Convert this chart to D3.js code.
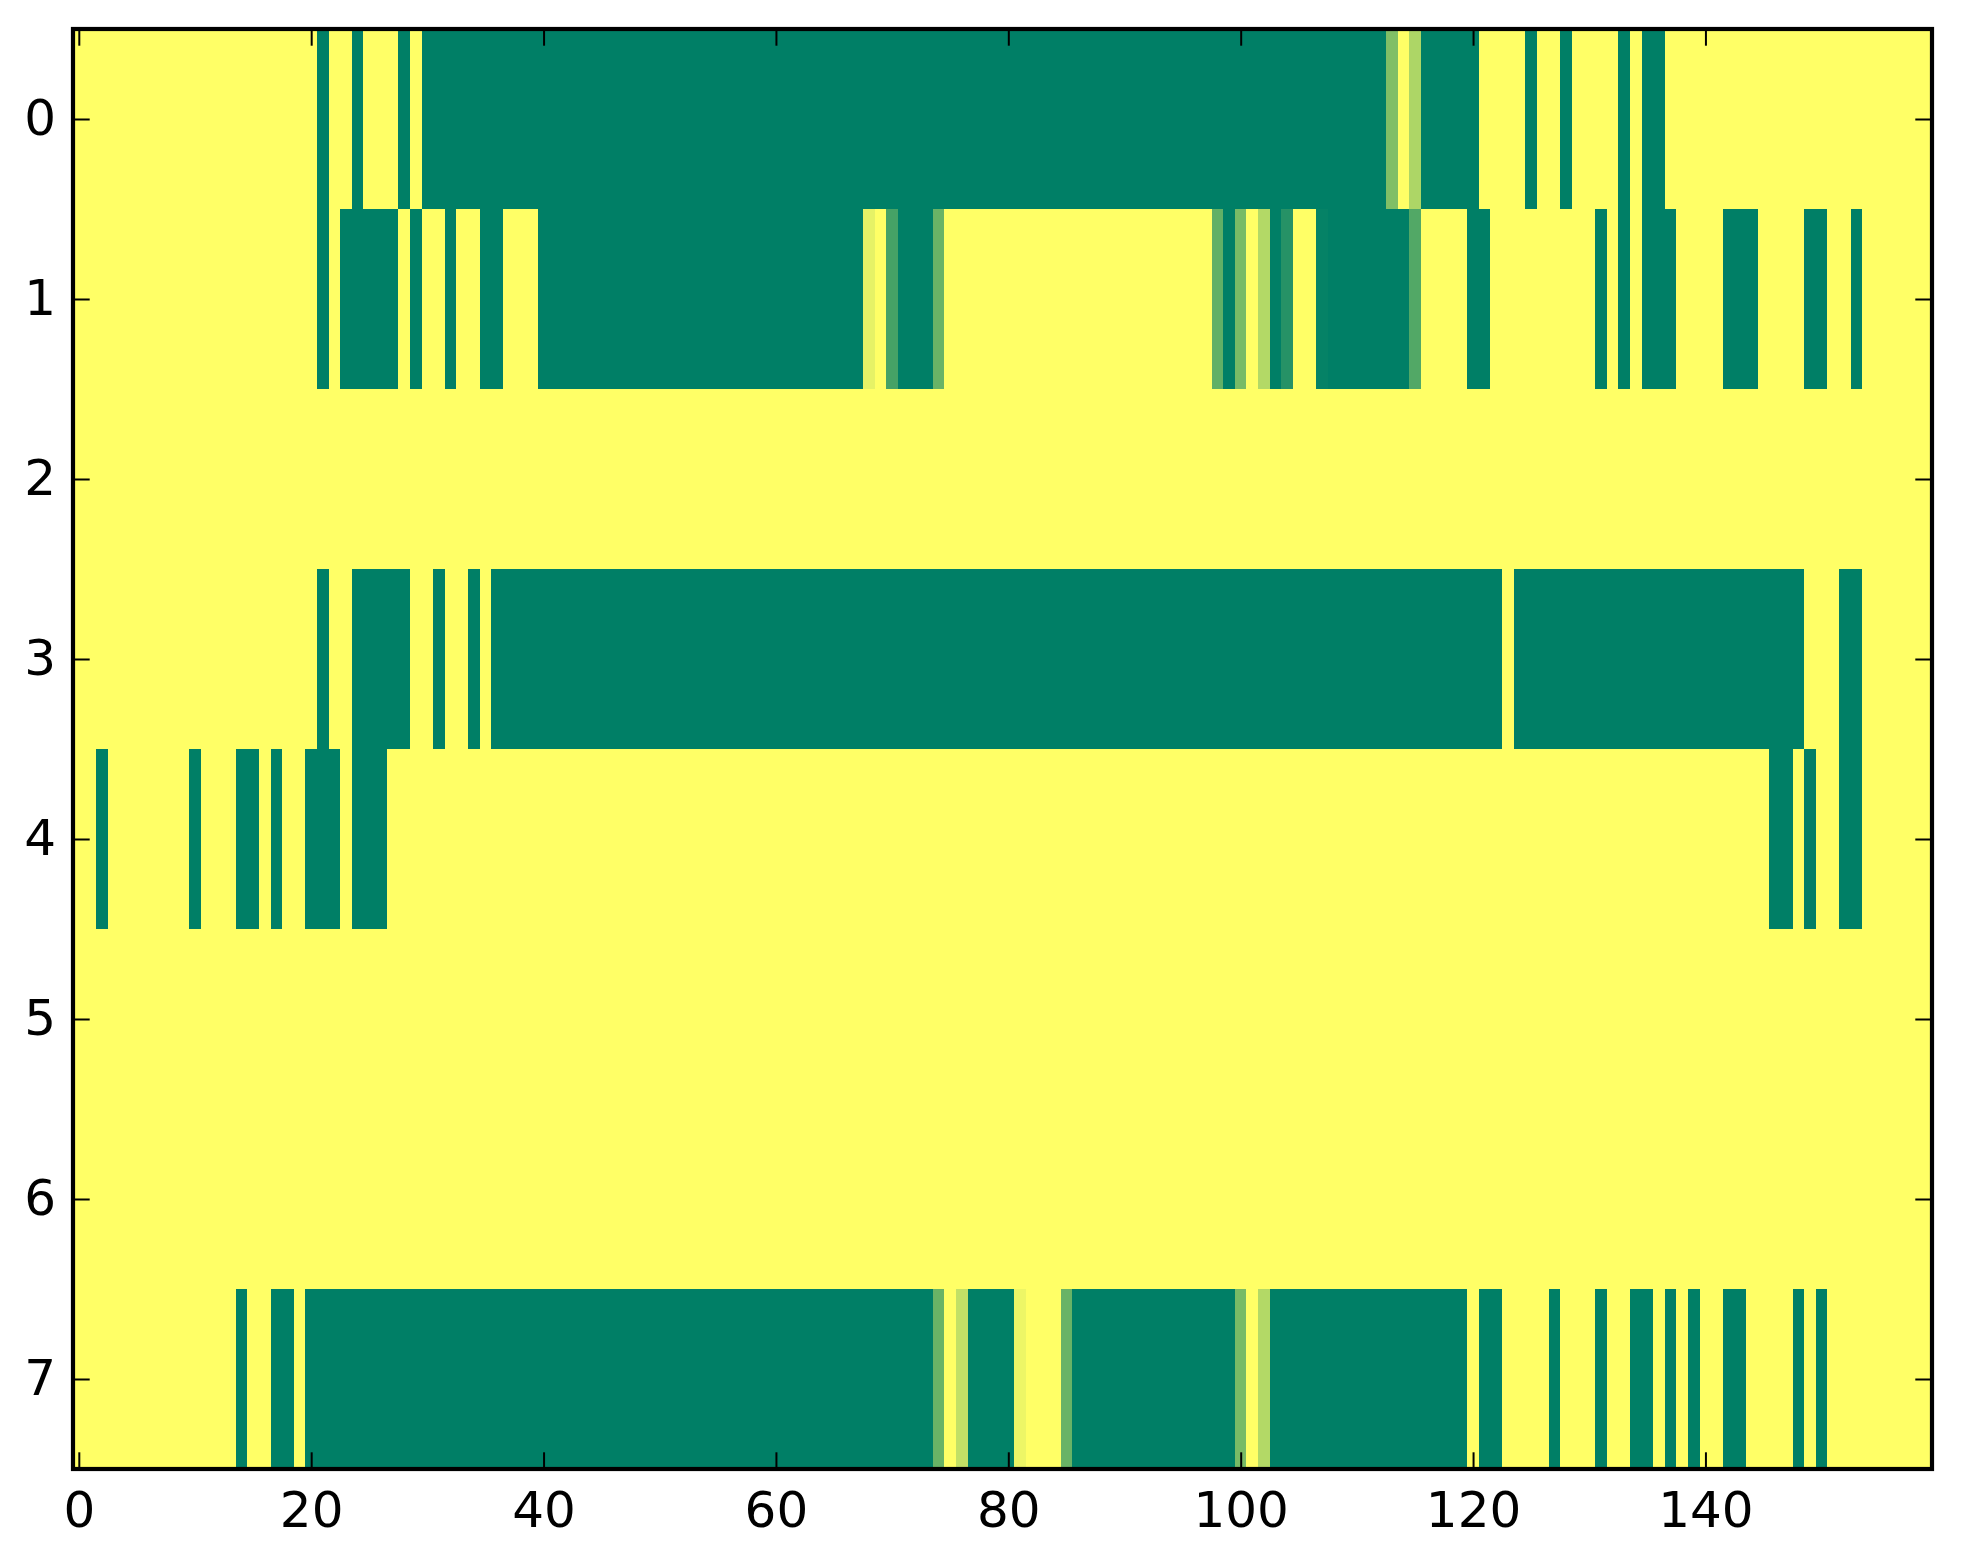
<!DOCTYPE html>
<html>
<head>
<meta charset="utf-8">
<script src="https://cdn.jsdelivr.net/npm/d3@7"></script>
<style>
    body { margin: 0; background: #ffffff; }
    .tick text { font-family: "DejaVu Sans", sans-serif; font-size: 50px; fill: #000000; }
    .tick line { stroke: #000000; stroke-width: 2px; }
</style>
</head>
<body>
<svg id="chart" width="1963" height="1564"></svg>
<script>
// image rows, one value per column (0 = yellow, 1 = green)
const row0 = [
    0,0,0,0,0,0,0,0,0,0,0,0,0,0,0,0,0,0,0,0,
    0,1,0,0,1,0,0,0,1,0,1,1,1,1,1,1,1,1,1,1,
    1,1,1,1,1,1,1,1,1,1,1,1,1,1,1,1,1,1,1,1,
    1,1,1,1,1,1,1,1,1,1,1,1,1,1,1,1,1,1,1,1,
    1,1,1,1,1,1,1,1,1,1,1,1,1,1,1,1,1,1,1,1,
    1,1,1,1,1,1,1,1,1,1,1,1,1,0.5,0,0.32,1,1,1,1,
    1,0,0,0,0,1,0,0,1,0,0,0,0,1,0,1,1,0,0,0,
    0,0,0,0,0,0,0,0,0,0,0,0,0,0,0,0,0,0,0,0
];
const row1 = [
    0,0,0,0,0,0,0,0,0,0,0,0,0,0,0,0,0,0,0,0,
    0,1,0,1,1,1,1,1,0,1,0,0,1,0,0,1,1,0,0,0,
    1,1,1,1,1,1,1,1,1,1,1,1,1,1,1,1,1,1,1,1,
    1,1,1,1,1,1,1,1,0.1,0,0.73,1,1,1,0.59,0,0,0,0,0,
    0,0,0,0,0,0,0,0,0,0,0,0,0,0,0,0,0,0,0.62,1,
    0.53,0,0.3,1,0.85,0,0,0.98,1,1,1,1,1,1,1,0.68,0,0,0,0,
    1,1,0,0,0,0,0,0,0,0,0,1,0,1,0,1,1,1,0,0,
    0,0,1,1,1,0,0,0,0,1,1,0,0,1,0,0,0,0,0,0
];
const row2 = [
    0,0,0,0,0,0,0,0,0,0,0,0,0,0,0,0,0,0,0,0,
    0,0,0,0,0,0,0,0,0,0,0,0,0,0,0,0,0,0,0,0,
    0,0,0,0,0,0,0,0,0,0,0,0,0,0,0,0,0,0,0,0,
    0,0,0,0,0,0,0,0,0,0,0,0,0,0,0,0,0,0,0,0,
    0,0,0,0,0,0,0,0,0,0,0,0,0,0,0,0,0,0,0,0,
    0,0,0,0,0,0,0,0,0,0,0,0,0,0,0,0,0,0,0,0,
    0,0,0,0,0,0,0,0,0,0,0,0,0,0,0,0,0,0,0,0,
    0,0,0,0,0,0,0,0,0,0,0,0,0,0,0,0,0,0,0,0
];
const row3 = [
    0,0,0,0,0,0,0,0,0,0,0,0,0,0,0,0,0,0,0,0,
    0,1,0,0,1,1,1,1,1,0,0,1,0,0,1,0,1,1,1,1,
    1,1,1,1,1,1,1,1,1,1,1,1,1,1,1,1,1,1,1,1,
    1,1,1,1,1,1,1,1,1,1,1,1,1,1,1,1,1,1,1,1,
    1,1,1,1,1,1,1,1,1,1,1,1,1,1,1,1,1,1,1,1,
    1,1,1,1,1,1,1,1,1,1,1,1,1,1,1,1,1,1,1,1,
    1,1,1,0,1,1,1,1,1,1,1,1,1,1,1,1,1,1,1,1,
    1,1,1,1,1,1,1,1,1,0,0,0,1,1,0,0,0,0,0,0
];
const row4 = [
    0,0,1,0,0,0,0,0,0,0,1,0,0,0,1,1,0,1,0,0,
    1,1,1,0,1,1,1,0,0,0,0,0,0,0,0,0,0,0,0,0,
    0,0,0,0,0,0,0,0,0,0,0,0,0,0,0,0,0,0,0,0,
    0,0,0,0,0,0,0,0,0,0,0,0,0,0,0,0,0,0,0,0,
    0,0,0,0,0,0,0,0,0,0,0,0,0,0,0,0,0,0,0,0,
    0,0,0,0,0,0,0,0,0,0,0,0,0,0,0,0,0,0,0,0,
    0,0,0,0,0,0,0,0,0,0,0,0,0,0,0,0,0,0,0,0,
    0,0,0,0,0,0,1,1,0,1,0,0,1,1,0,0,0,0,0,0
];
const row5 = row2.slice();
const row6 = row2.slice();
const row7 = [
    0,0,0,0,0,0,0,0,0,0,0,0,0,0,1,0,0,1,1,0,
    1,1,1,1,1,1,1,1,1,1,1,1,1,1,1,1,1,1,1,1,
    1,1,1,1,1,1,1,1,1,1,1,1,1,1,1,1,1,1,1,1,
    1,1,1,1,1,1,1,1,1,1,1,1,1,1,0.59,0,0.24,1,1,1,
    1,0.07,0,0,0,0.59,1,1,1,1,1,1,1,1,1,1,1,1,1,1,
    0.53,0,0.3,1,1,1,1,1,1,1,1,1,1,1,1,1,1,1,1,1,
    0,1,1,0,0,0,0,1,0,0,0,1,0,0,1,1,0,1,0,1,
    0,0,1,1,0,0,0,0,1,0,1,0,0,0,0,0,0,0,0,0
];
const rows = [row0, row1, row2, row3, row4, row5, row6, row7];

const xTicks = [0, 20, 40, 60, 80, 100, 120, 140];
const yTicks = [0, 1, 2, 3, 4, 5, 6, 7];

function drawImage() {
    let svg = d3.select("#chart");
    let nCols = row0.length;
    let nRows = rows.length;

    // plot box in pixels
    let left = 73, right = 1932, top = 29, bottom = 1469;
    let tickLen = 16.7;

    let x = d3.scaleLinear().domain([-0.5, nCols - 0.5]).range([left, right]);
    let y = d3.scaleLinear().domain([-0.5, nRows - 0.5]).range([top, bottom]);

    // summer colormap reversed: 0 -> yellow, 1 -> green
    let color = d3.scaleLinear()
        .domain([0, 1])
        .range(["#ffff66", "#007f66"])
        .interpolate(d3.interpolateRgb);

    // flatten rows into cells
    let cells = [];
    rows.forEach(function(r, i) {
        r.forEach(function(v, j) {
            cells.push({"row": i, "col": j, "value": v});
        });
    });

    svg.append("g")
        .selectAll("rect")
        .data(cells)
        .enter()
        .append("rect")
        .attr("x", function(d) { return x(d.col - 0.5); })
        .attr("y", function(d) { return y(d.row - 0.5); })
        .attr("width", function(d) { return x(d.col + 0.5) - x(d.col - 0.5); })
        .attr("height", function(d) { return y(d.row + 0.5) - y(d.row - 0.5); })
        .attr("fill", function(d) { return color(d.value); })
        .attr("shape-rendering", "crispEdges");

    // axes, ticks pointing inwards on all four sides
    let xAxis = svg.append("g")
        .attr("transform", "translate(0," + bottom + ")")
        .call(d3.axisBottom(x).tickValues(xTicks).tickSizeInner(-tickLen).tickSizeOuter(0).tickPadding(22.5));
    let xAxisTop = svg.append("g")
        .attr("transform", "translate(0," + top + ")")
        .call(d3.axisTop(x).tickValues(xTicks).tickSizeInner(-tickLen).tickSizeOuter(0).tickFormat(""));
    let yAxis = svg.append("g")
        .attr("transform", "translate(" + left + ",0)")
        .call(d3.axisLeft(y).tickValues(yTicks).tickSizeInner(-tickLen).tickSizeOuter(0).tickPadding(17));
    let yAxisRight = svg.append("g")
        .attr("transform", "translate(" + right + ",0)")
        .call(d3.axisRight(y).tickValues(yTicks).tickSizeInner(-tickLen).tickSizeOuter(0).tickFormat(""));

    [xAxis, xAxisTop, yAxis, yAxisRight].forEach(function(a) {
        a.select(".domain").remove();
        a.attr("font-family", null).attr("font-size", null);
    });
    yAxis.selectAll("text").attr("dy", "0.3em");

    // frame
    svg.append("rect")
        .attr("x", left)
        .attr("y", top)
        .attr("width", right - left)
        .attr("height", bottom - top)
        .attr("fill", "none")
        .attr("stroke", "#000000")
        .attr("stroke-width", 4.2);
}

drawImage();
</script>
</body>
</html>
